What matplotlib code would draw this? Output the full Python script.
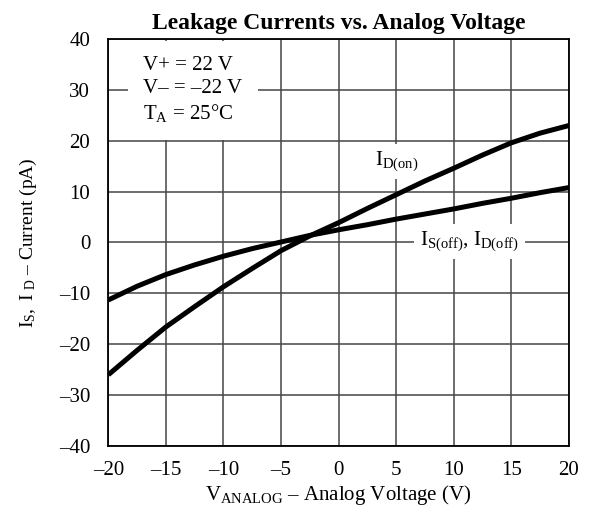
import matplotlib
matplotlib.use("Agg")
import matplotlib.pyplot as plt

plt.rcParams['font.family'] = ['Liberation Serif', 'DejaVu Serif']
plt.rcParams['mathtext.fontset'] = 'custom'
plt.rcParams['mathtext.rm'] = 'Liberation Serif'
plt.rcParams['mathtext.it'] = 'Liberation Serif:italic'

v_analog = [-20, -17.5, -15, -12.5, -10, -7.5, -5, -2.5, 0, 2.5, 5, 7.5, 10, 12.5, 15, 17.5, 20]
i_d_on = [-26.0, -21.2, -16.6, -12.6, -8.7, -5.1, -1.6, 1.3, 3.9, 6.7, 9.4, 12.1, 14.6, 17.2, 19.6, 21.5, 23.0]
i_s_off = [-11.3, -8.6, -6.3, -4.4, -2.7, -1.2, 0.1, 1.4, 2.5, 3.5, 4.6, 5.6, 6.6, 7.7, 8.7, 9.8, 10.8]

x_ticks = [-20, -15, -10, -5, 0, 5, 10, 15, 20]
y_ticks = [-40, -30, -20, -10, 0, 10, 20, 30, 40]

fig = plt.figure(figsize=(5.89, 5.25), dpi=100)
ax = fig.add_axes([0.1839, 0.1505, 0.966 - 0.1839, 0.9257 - 0.1505])

ax.plot(v_analog, i_d_on, color='black', lw=3.6, solid_capstyle='butt', zorder=3)
ax.plot(v_analog, i_s_off, color='black', lw=3.6, solid_capstyle='butt', zorder=3)

ax.set_xlim(-20, 20)
ax.set_ylim(-40, 40)
ax.set_xticks(x_ticks)
ax.set_yticks(y_ticks)
ax.set_xticklabels([str(t).replace('-', '\u2013') for t in x_ticks])
ax.set_yticklabels([str(t).replace('-', '\u2013') for t in y_ticks])
ax.tick_params(length=0, labelsize=15)
ax.tick_params(axis='x', pad=11)
ax.tick_params(axis='y', pad=13)
ax.grid(True, color='#454545', lw=1.1, zorder=1)
for s in ax.spines.values():
    s.set_linewidth(1.3)
    s.set_zorder(4)

ax.set_title('Leakage Currents vs. Analog Voltage', fontsize=17, fontweight='bold', pad=7)
ax.set_xlabel(r'$\mathrm{V_{ANALOG}}$' + ' \u2013 Analog Voltage (V)', fontsize=15, labelpad=2)
ax.set_ylabel(r'$\mathrm{I_{S},\ I\ _{D}}$' + ' \u2013 Current (pA)', fontsize=14, labelpad=14)

bbox = dict(facecolor='white', edgecolor='none', pad=4)
ax.text(-16.96, 24.3, 'V+ = 22 V\nV\u2013 = \u201322 V\n' + r'$\mathrm{T_A}$' + ' = 25\u00b0C',
        fontsize=15, va='baseline', ha='left', linespacing=1.25,
        bbox=dict(facecolor='white', edgecolor='none', boxstyle='square,pad=0.75'), zorder=2)
ax.text(3.2, 15.25, r'$\mathrm{I_{D(on)}}$', fontsize=15, va='baseline', ha='left',
        bbox=bbox, zorder=2)
ax.text(7.05, -0.5, r'$\mathrm{I_{S(off)},\,I_{D(off)}}$', fontsize=15, va='baseline', ha='left',
        bbox=bbox, zorder=2)

fig.savefig('out.png', dpi=100)
